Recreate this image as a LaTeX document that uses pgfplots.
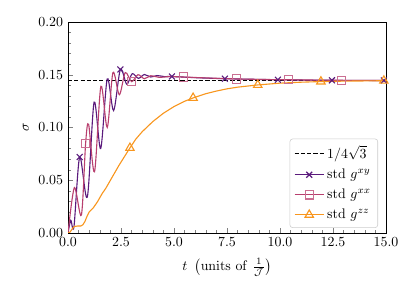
\documentclass[border=0pt]{standalone}
\usepackage{pgfplots}
\pgfplotsset{compat=1.18}
\definecolor{cxy}{HTML}{5A1A7C}
\definecolor{cxx}{HTML}{B83F6E}
\definecolor{czz}{HTML}{F8961E}
\begin{document}
\begin{tikzpicture}
\begin{axis}[
  scale only axis, width=229pt, height=152pt,
  xmin=0, xmax=15, ymin=0, ymax=0.2,
  xtick={0,2.5,5,7.5,10,12.5,15},
  ytick={0,0.05,0.1,0.15,0.2},
  minor x tick num=4, minor y tick num=4,
  scaled x ticks=false, scaled y ticks=false,
  tick align=inside, xtick pos=bottom, ytick pos=left,
  major tick length=3.5pt, minor tick length=2pt,
  xticklabel style={/pgf/number format/.cd, fixed, fixed zerofill, precision=1},
  yticklabel style={/pgf/number format/.cd, fixed, fixed zerofill, precision=2},
  xlabel={$t\ \left(\mathrm{units\ of\ }\frac{1}{\mathcal{J}}\right)$},
  xlabel style={yshift=-1.5pt},
  ylabel={$\sigma$},
  legend cell align=left,
  legend style={at={(0.975,0.024)}, anchor=south east, draw=black!20, rounded corners=2pt,
    fill=white, row sep=2pt, inner sep=3pt},
  legend image code/.code={\draw[mark indices={2}] plot coordinates {(0cm,0cm) (0.37cm,0cm) (0.74cm,0cm)};},
  every axis plot/.append style={line width=0.8pt},
]
\addplot[black, dashed, line width=0.8pt, dash pattern=on 3pt off 1.5pt] coordinates {(0,0.1443) (15,0.1443)};
\addlegendentry{$1/4\sqrt{3}$}
\addplot[cxy, smooth, tension=0.5, mark=x, mark size=3pt, mark indices={4,10,18,20,22,24,26}, mark options={solid}] coordinates {
(0,0) (0.13,0.012) (0.28,0.006) (0.55,0.072) (0.91,0.034) (1.23,0.124) (1.54,0.080)
(1.85,0.146) (2.15,0.116) (2.47,0.155) (2.77,0.141) (3.03,0.151) (3.32,0.1465)
(3.6,0.1502) (3.9,0.1478) (4.2,0.1492) (4.55,0.1482) (4.9,0.1483) (6.0,0.1472)
(7.4,0.1462) (8.6,0.1457) (9.9,0.1452) (11.2,0.1449) (12.45,0.1447) (13.7,0.1446)
(14.9,0.1445) (15,0.1445)};
\addlegendentry{std $g^{xy}$}
\addplot[cxx, smooth, tension=0.5, mark=square, mark size=3pt, mark indices={4,12,18,20,22,24}, mark options={solid, draw=cxx!75, fill=none}] coordinates {
(0,0) (0.3,0.043) (0.63,0.017) (0.83,0.085) (0.97,0.103) (1.25,0.058) (1.55,0.139)
(1.85,0.100) (2.12,0.152) (2.42,0.131) (2.7,0.152) (3.0,0.1434) (3.3,0.150)
(3.6,0.1462) (3.9,0.1490) (4.3,0.1475) (4.8,0.1482) (5.44,0.1478) (6.7,0.1468)
(7.95,0.146) (9.2,0.1455) (10.4,0.1452) (11.7,0.1449) (12.9,0.1447) (15,0.1445)};
\addlegendentry{std $g^{xx}$}
\addplot[czz, mark=triangle, mark size=3.5pt, mark indices={20,27,32,35,38}, mark options={solid, fill=none}] coordinates {
(0,0) (0.1,0.001) (0.2,0.004) (0.3,0.0062) (0.45,0.0066) (0.6,0.0066) (0.7,0.0078)
(0.8,0.011) (0.9,0.016) (1.0,0.020) (1.1,0.022) (1.2,0.024) (1.4,0.030) (1.6,0.037)
(1.8,0.043) (2.0,0.050) (2.2,0.057) (2.4,0.064) (2.65,0.072) (2.92,0.0806) (3.2,0.089)
(3.5,0.096) (4.0,0.1056) (4.5,0.1135) (5.0,0.1198) (5.5,0.1248) (5.9,0.128) (6.5,0.132)
(7.0,0.1345) (7.5,0.1366) (8.0,0.1382) (8.95,0.1403) (10,0.142) (11,0.1429) (11.93,0.1435)
(13,0.1439) (14,0.1441) (14.9,0.1443) (15,0.1443)};
\addlegendentry{std $g^{zz}$}
\end{axis}
\path ([shift={(-49pt,-44.6pt)}]current axis.south west) rectangle ([shift={(20.9pt,15.8pt)}]current axis.north east);
\end{tikzpicture}
\end{document}
